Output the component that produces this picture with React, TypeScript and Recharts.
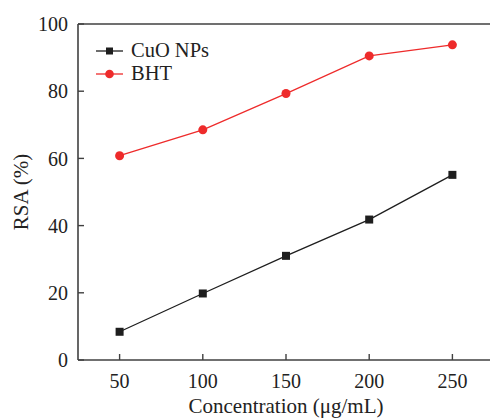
import React from "react";
import {
  LineChart,
  Line,
  XAxis,
  YAxis,
  ReferenceLine,
} from "recharts";

const concentrations = [50, 100, 150, 200, 250];
const cuoValues = [8.4, 19.8, 31, 41.8, 55.1];
const bhtValues = [60.8, 68.5, 79.3, 90.5, 93.8];
const xTicks = [50, 100, 150, 200, 250];
const yTicks = [0, 20, 40, 60, 80, 100];

const data = concentrations.map((c, i) => ({
  conc: c,
  cuo: cuoValues[i],
  bht: bhtValues[i],
}));

const FONT = '"Liberation Serif", "Times New Roman", serif';
const AXIS = "#404040";
const RED = "#ee2b2b";
const BLACK = "#1e1e1e";

const series = [
  { key: "cuo", name: "CuO NPs", color: BLACK, marker: "square" },
  { key: "bht", name: "BHT", color: RED, marker: "circle" },
];

const SquareDot = (props: any) => {
  const { cx, cy } = props;
  if (cx == null || cy == null) return null;
  return <rect x={cx - 4} y={cy - 4} width={8} height={8} fill={BLACK} />;
};

// legend drawn as an overlay so it doesn't eat plot space
function ChartLegend() {
  return (
    <div
      style={{
        position: "absolute",
        left: 94,
        top: 39,
        fontFamily: FONT,
        fontSize: 20.5,
        color: "#222",
      }}
    >
      {series.map((s) => (
        <div key={s.key} style={{ display: "flex", alignItems: "center", height: 23 }}>
          <svg width={32} height={20}>
            <line x1={2} x2={29} y1={10} y2={10} stroke={s.color} strokeWidth={1.3} />
            {s.marker === "square" ? (
              <rect x={12} y={6.5} width={7} height={7} fill={s.color} />
            ) : (
              <circle cx={15.5} cy={10} r={4.3} fill={s.color} />
            )}
          </svg>
          <span style={{ marginLeft: 5 }}>{s.name}</span>
        </div>
      ))}
    </div>
  );
}

export default function App() {
  return (
    <div style={{ position: "absolute", left: 0, top: 0, fontFamily: FONT }}>
      <LineChart
        width={495}
        height={419}
        data={data}
        margin={{ top: 24, right: 1, left: 0, bottom: 0 }}
        style={{ fontFamily: FONT }}
      >
        <XAxis
          dataKey="conc"
          type="number"
          domain={[25, 275]}
          ticks={xTicks}
          height={59}
          tickSize={-6}
          tickMargin={20}
          tick={{ fontFamily: FONT, fontSize: 20, fill: "#222" }}
          axisLine={{ stroke: AXIS, strokeWidth: 1.6 }}
          tickLine={{ stroke: AXIS, strokeWidth: 1.4 }}
          label={{
            content: ({ viewBox }: any) => (
              <text
                x={viewBox.x + viewBox.width / 2}
                y={413}
                textAnchor="middle"
                fontFamily={FONT}
                fontSize={21}
                fill="#222"
              >
                Concentration (μg/mL)
              </text>
            ),
          }}
        />
        <YAxis
          type="number"
          domain={[0, 100]}
          ticks={yTicks}
          width={78}
          tickSize={-6}
          tickMargin={16}
          tick={{ fontFamily: FONT, fontSize: 20, fill: "#222" }}
          axisLine={{ stroke: AXIS, strokeWidth: 1.6 }}
          tickLine={{ stroke: AXIS, strokeWidth: 1.4 }}
          label={{
            content: ({ viewBox }: any) => {
              const cx = 21;
              const cy = viewBox.y + viewBox.height / 2;
              return (
                <text
                  x={cx}
                  y={cy}
                  transform={`rotate(-90, ${cx}, ${cy})`}
                  textAnchor="middle"
                  dominantBaseline="central"
                  fontFamily={FONT}
                  fontSize={21}
                  fill="#222"
                >
                  RSA (%)
                </text>
              );
            },
          }}
        />
        <ReferenceLine y={100} stroke={AXIS} strokeWidth={1.6} />
        <Line
          dataKey="cuo"
          name="CuO NPs"
          stroke={BLACK}
          strokeWidth={1.3}
          dot={<SquareDot />}
          isAnimationActive={false}
        />
        <Line
          dataKey="bht"
          name="BHT"
          stroke={RED}
          strokeWidth={1.3}
          dot={{ r: 4.5, fill: RED, stroke: RED, strokeWidth: 0 }}
          isAnimationActive={false}
        />
      </LineChart>
      <ChartLegend />
    </div>
  );
}
